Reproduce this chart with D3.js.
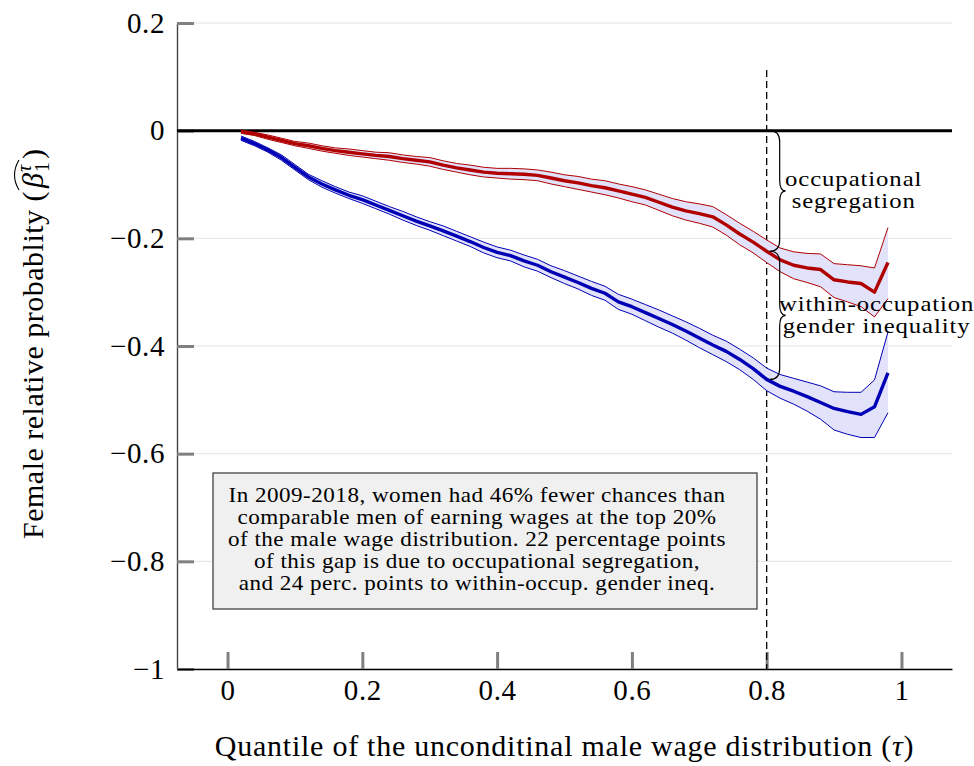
<!DOCTYPE html>
<html>
<head>
<meta charset="utf-8">
<script src="https://cdn.jsdelivr.net/npm/d3@7"></script>
<style>
  body { margin: 0; background: #fff; }
  svg { display: block; }
  text { font-family: "Liberation Serif", "Times New Roman", serif; fill: #000; }
</style>
</head>
<body>
<svg id="chart" width="974" height="766"></svg>
<script>
// Quantiles of the unconditional male wage distribution
const taus = [0.02, 0.04, 0.06, 0.08, 0.10, 0.12, 0.14, 0.16, 0.18, 0.20,
              0.22, 0.24, 0.26, 0.28, 0.30, 0.32, 0.34, 0.36, 0.38, 0.40,
              0.42, 0.44, 0.46, 0.48, 0.50, 0.52, 0.54, 0.56, 0.58, 0.60,
              0.62, 0.64, 0.66, 0.68, 0.70, 0.72, 0.74, 0.76, 0.78, 0.80,
              0.82, 0.84, 0.86, 0.88, 0.90, 0.92, 0.94, 0.96, 0.98];

// Female coefficient with occupation controls (red) and its confidence bounds
const occCoef = [-0.002, -0.006, -0.012, -0.018, -0.024, -0.028, -0.033, -0.037, -0.040, -0.043,
                 -0.046, -0.048, -0.052, -0.055, -0.058, -0.064, -0.069, -0.073, -0.077, -0.079,
                 -0.080, -0.081, -0.083, -0.088, -0.093, -0.097, -0.102, -0.106, -0.112, -0.118,
                 -0.124, -0.133, -0.142, -0.149, -0.154, -0.160, -0.175, -0.192, -0.207, -0.224,
                 -0.240, -0.250, -0.255, -0.258, -0.277, -0.281, -0.284, -0.300, -0.245];
const occHigh = [0.001, -0.003, -0.008, -0.014, -0.020, -0.023, -0.028, -0.032, -0.034, -0.037,
                 -0.040, -0.041, -0.045, -0.048, -0.050, -0.056, -0.061, -0.064, -0.068, -0.070,
                 -0.070, -0.071, -0.073, -0.077, -0.082, -0.085, -0.090, -0.093, -0.099, -0.104,
                 -0.110, -0.118, -0.126, -0.132, -0.136, -0.141, -0.156, -0.172, -0.187, -0.203,
                 -0.218, -0.225, -0.228, -0.229, -0.247, -0.249, -0.251, -0.255, -0.180];
const occLow  = [-0.005, -0.009, -0.016, -0.022, -0.028, -0.033, -0.038, -0.042, -0.046, -0.049,
                 -0.052, -0.055, -0.059, -0.062, -0.066, -0.072, -0.077, -0.082, -0.086, -0.088,
                 -0.090, -0.091, -0.093, -0.099, -0.104, -0.109, -0.114, -0.119, -0.125, -0.132,
                 -0.138, -0.148, -0.158, -0.166, -0.172, -0.179, -0.194, -0.212, -0.227, -0.245,
                 -0.262, -0.275, -0.282, -0.290, -0.310, -0.318, -0.327, -0.346, -0.312];

// Female coefficient without occupation controls (blue) and its confidence bounds
const rawCoef = [-0.014, -0.024, -0.036, -0.050, -0.068, -0.086, -0.099, -0.110, -0.120, -0.128,
                 -0.138, -0.148, -0.158, -0.168, -0.177, -0.186, -0.196, -0.206, -0.217, -0.226,
                 -0.232, -0.242, -0.250, -0.262, -0.272, -0.282, -0.293, -0.302, -0.318, -0.327,
                 -0.338, -0.349, -0.360, -0.372, -0.385, -0.398, -0.410, -0.425, -0.442, -0.462,
                 -0.475, -0.484, -0.494, -0.505, -0.516, -0.522, -0.527, -0.513, -0.450];
const rawHigh = [-0.010, -0.020, -0.032, -0.045, -0.063, -0.081, -0.093, -0.104, -0.114, -0.121,
                 -0.131, -0.141, -0.150, -0.160, -0.169, -0.177, -0.187, -0.197, -0.207, -0.216,
                 -0.222, -0.231, -0.239, -0.251, -0.260, -0.270, -0.280, -0.289, -0.304, -0.313,
                 -0.323, -0.333, -0.344, -0.355, -0.367, -0.380, -0.391, -0.406, -0.422, -0.441,
                 -0.453, -0.460, -0.467, -0.474, -0.485, -0.486, -0.486, -0.463, -0.374];
const rawLow  = [-0.018, -0.028, -0.040, -0.055, -0.073, -0.091, -0.105, -0.116, -0.126, -0.135,
                 -0.145, -0.155, -0.166, -0.176, -0.185, -0.195, -0.205, -0.215, -0.227, -0.236,
                 -0.242, -0.253, -0.261, -0.273, -0.284, -0.294, -0.306, -0.315, -0.332, -0.341,
                 -0.353, -0.365, -0.376, -0.389, -0.403, -0.416, -0.429, -0.444, -0.462, -0.483,
                 -0.497, -0.508, -0.521, -0.536, -0.556, -0.564, -0.570, -0.570, -0.524];

const xTicks = [0, 0.2, 0.4, 0.6, 0.8, 1];
const yTicks = [0.2, 0, -0.2, -0.4, -0.6, -0.8, -1];
const markedQuantile = 0.8;   // quantile marked by the dashed line and braces
const markedIndex = taus.indexOf(markedQuantile);

const noteLines = [
  "In 2009-2018, women had 46% fewer chances than",
  "comparable men of earning wages at the top 20%",
  "of the male wage distribution. 22 percentage points",
  "of this gap is due to occupational segregation,",
  "and 24 perc. points to within-occup. gender ineq."
];
const upperBraceLabel = ["occupational", "segregation"];
const lowerBraceLabel = ["within-occupation", "gender inequality"];

const RED = "#b00000", BLUE = "#0000b4", BAND = "#e2e2fb";

const svg = d3.select("#chart");
const plotLeft = 177, plotRight = 952, plotTop = 23, plotBottom = 669;

const x = d3.scaleLinear().domain([-0.075, 1.075]).range([plotLeft, plotRight]);
const y = d3.scaleLinear().domain([-1, 0.2]).range([plotBottom, plotTop]);

// horizontal grid
svg.append("g").selectAll("line").data(yTicks).join("line")
  .attr("x1", plotLeft).attr("x2", plotRight)
  .attr("y1", d => y(d)).attr("y2", d => y(d))
  .attr("stroke", "#e4e4e4").attr("stroke-width", 1);

// axes
const fmt = d => d === 0 ? "0" : d3.format("~g")(d);
const yAxis = svg.append("g").attr("transform", `translate(${plotLeft},0)`)
  .call(d3.axisLeft(y).tickValues(yTicks).tickFormat(fmt).tickSize(-17).tickSizeOuter(0).tickPadding(12));
const xAxis = svg.append("g").attr("transform", `translate(0,${plotBottom})`)
  .call(d3.axisBottom(x).tickValues(xTicks).tickFormat(fmt).tickSize(-17).tickSizeOuter(0).tickPadding(10));
[yAxis, xAxis].forEach(a => {
  a.selectAll(".tick line").attr("stroke", "#808080").attr("stroke-width", 3);
  a.selectAll(".tick text").style("font-size", "29px")
    .style("font-family", '"Liberation Serif", serif').style("letter-spacing", "0.6px").attr("fill", "#000");
});
yAxis.select(".domain").attr("stroke", "#444").attr("stroke-width", 1.4);
xAxis.select(".domain").attr("stroke", "#000").attr("stroke-width", 1.4);

// zero line
svg.append("line").attr("x1", plotLeft).attr("x2", plotRight)
  .attr("y1", y(0)).attr("y2", y(0)).attr("stroke", "#000").attr("stroke-width", 3);

// dashed reference line
svg.append("line").attr("x1", x(markedQuantile)).attr("x2", x(markedQuantile))
  .attr("y1", 70).attr("y2", plotBottom)
  .attr("stroke", "#000").attr("stroke-width", 1.3).attr("stroke-dasharray", "7,4");

// confidence bands and estimates
function series(center, low, high, color) {
  const rows = taus.map((t, i) => ({ t, c: center[i], lo: low[i], hi: high[i] }));
  svg.append("path").datum(rows)
    .attr("d", d3.area().x(d => x(d.t)).y0(d => y(d.lo)).y1(d => y(d.hi)))
    .attr("fill", BAND).attr("stroke", "none");
  ["lo", "hi"].forEach(k => {
    svg.append("path").datum(rows)
      .attr("d", d3.line().x(d => x(d.t)).y(d => y(d[k])))
      .attr("fill", "none").attr("stroke", color).attr("stroke-width", 1);
  });
  svg.append("path").datum(rows)
    .attr("d", d3.line().x(d => x(d.t)).y(d => y(d.c)))
    .attr("fill", "none").attr("stroke", color).attr("stroke-width", 3.4)
    .attr("stroke-linejoin", "round");
}
series(rawCoef, rawLow, rawHigh, BLUE);
series(occCoef, occLow, occHigh, RED);

// curly braces at the marked quantile
function bracePath(x0, yA, yB) {
  const sp = 10, tip = 16, c = 11, ym = (yA + yB) / 2;
  return `M${x0},${yA} Q${x0 + sp},${yA} ${x0 + sp},${yA + c}` +
         ` L${x0 + sp},${ym - c} Q${x0 + sp},${ym} ${x0 + tip},${ym}` +
         ` Q${x0 + sp},${ym} ${x0 + sp},${ym + c}` +
         ` L${x0 + sp},${yB - c} Q${x0 + sp},${yB} ${x0},${yB}`;
}
const bx = x(markedQuantile) + 3;
const yZero = y(0), yOcc = y(occCoef[markedIndex]), yRaw = y(rawCoef[markedIndex]);
svg.append("path").attr("d", bracePath(bx, yZero, yOcc))
  .attr("fill", "none").attr("stroke", "#000").attr("stroke-width", 1.2);
svg.append("path").attr("d", bracePath(bx, yOcc, yRaw))
  .attr("fill", "none").attr("stroke", "#000").attr("stroke-width", 1.2);

// centred text lines, slightly widened horizontally
function textBlock(lines, cx, baseline, gap, size, spacing, stretch) {
  svg.append("g").attr("transform", `translate(${cx},0) scale(${stretch},1)`)
    .selectAll("text").data(lines).join("text")
    .attr("x", 0).attr("y", (d, i) => baseline + i * gap)
    .attr("text-anchor", "middle")
    .style("font-size", size + "px").style("letter-spacing", spacing + "px")
    .text(d => d);
}
textBlock(upperBraceLabel, bx + 16 + 68, (yZero + yOcc) / 2 - 5, 22, 21.5, 0.8, 1.15);
textBlock(lowerBraceLabel, bx + 16 + 91, (yOcc + yRaw) / 2 - 4, 22, 21.5, 0.8, 1.15);

// note box
svg.append("rect").attr("x", 213).attr("y", 473).attr("width", 544).attr("height", 136)
  .attr("fill", "#f0f0f0").attr("stroke", "#444").attr("stroke-width", 1.3);
textBlock(noteLines, 477, 502.5, 22, 21.5, 0.45, 1.075);

// x axis title
const xt = svg.append("text").attr("x", (plotLeft + plotRight) / 2).attr("y", 756)
  .attr("text-anchor", "middle").style("font-size", "30px").style("letter-spacing", "0.75px");
xt.append("tspan").text("Quantile of the unconditinal male wage distribution (");
xt.append("tspan").style("font-style", "italic").text("τ");
xt.append("tspan").text(")");

// y axis title: Female relative probablity (beta-hat, sub 1, sup tau)
const yg = svg.append("g").attr("transform", `translate(43,${(plotTop + plotBottom) / 2 - 2}) rotate(-90)`);
const fs = 30;
const t1 = yg.append("text").style("font-size", fs + "px").style("letter-spacing", "0.5px")
  .text("Female relative probablity (");
const w1 = t1.node().getComputedTextLength();
const beta = yg.append("text").attr("x", w1 + 3).style("font-size", fs + "px").style("font-style", "italic").text("β");
const wb = beta.node().getComputedTextLength();
const sup = yg.append("text").attr("x", w1 + 3 + wb + 1).attr("y", -12)
  .style("font-size", "20px").style("font-style", "italic").text("τ");
const sub = yg.append("text").attr("x", w1 + 3 + wb + 1).attr("y", 6)
  .style("font-size", "20px").text("1");
const ws = Math.max(sup.node().getComputedTextLength(), sub.node().getComputedTextLength());
const xClose = w1 + 3 + wb + 1 + ws + 3;
const close = yg.append("text").attr("x", xClose).style("font-size", fs + "px").text(")");
const total = xClose + close.node().getComputedTextLength();
// wide hat over the beta and its scripts
const h0 = w1 + 1, h1 = w1 + 3 + wb + ws + 3;
yg.append("path")
  .attr("d", `M${h0},-24 Q${(h0 + h1) / 2},-33 ${h1},-24`)
  .attr("fill", "none").attr("stroke", "#000").attr("stroke-width", 1.1);
yg.selectAll("text,path").attr("transform", `translate(${-total / 2},0)`);
</script>
</body>
</html>
